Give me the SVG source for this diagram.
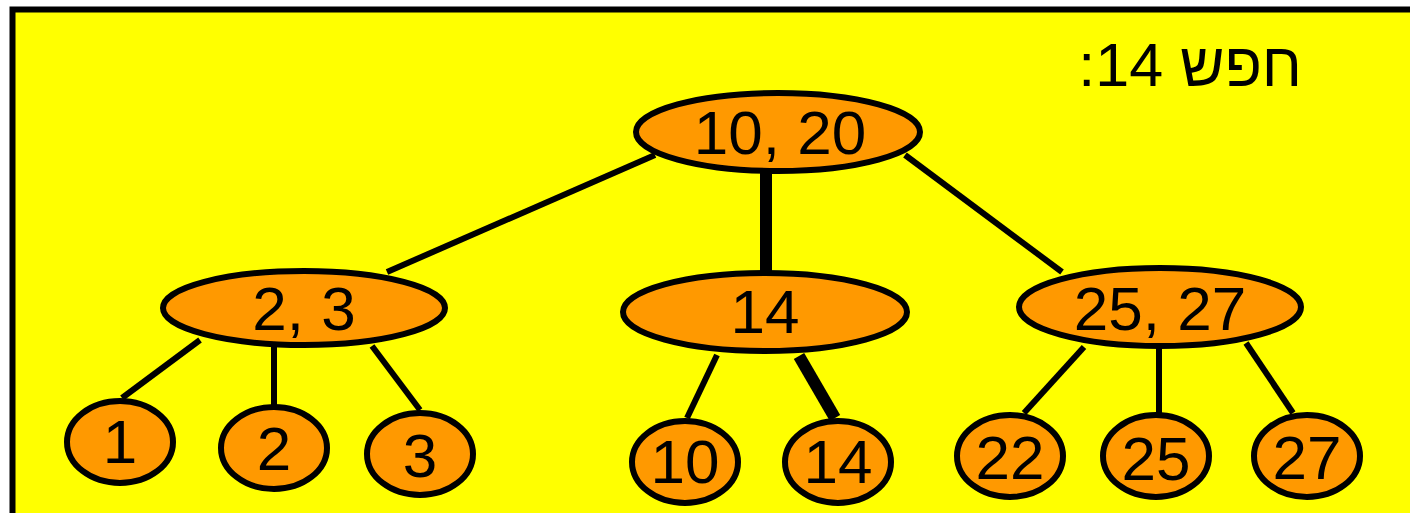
<svg xmlns="http://www.w3.org/2000/svg" width="1410" height="513" viewBox="0 0 1410 513">
<style>
.node ellipse{fill:#FF9900;stroke:#000;stroke-width:6}
.node text{font-family:"Comic Sans MS","Liberation Sans",sans-serif;font-size:62px;fill:#000;text-anchor:middle}
.edge{stroke:#000;stroke-width:6;fill:none}
.hot{stroke-width:12}
</style>
<rect x="0" y="0" width="1410" height="513" fill="#fff"/>
<rect x="12.5" y="9.5" width="1420" height="520" fill="#FFFF00" stroke="#000" stroke-width="6"/>
<text x="1302" y="86" direction="rtl" text-anchor="start" font-family="Liberation Sans, DejaVu Sans, sans-serif" font-size="61" fill="#000">חפש 14:</text>
<g id="connectors">
<line class="edge" x1="655" y1="155" x2="387" y2="272"/>
<line class="edge hot" x1="766" y1="172" x2="766" y2="273"/>
<line class="edge" x1="905" y1="155" x2="1062" y2="272"/>
<line class="edge" x1="200" y1="340" x2="122" y2="398"/>
<line class="edge" x1="274" y1="345" x2="274" y2="406"/>
<line class="edge" x1="372" y1="346" x2="420" y2="410"/>
<line class="edge" x1="717" y1="355" x2="687" y2="418"/>
<line class="edge hot" x1="799" y1="356" x2="835" y2="418"/>
<line class="edge" x1="1084" y1="347" x2="1024" y2="413"/>
<line class="edge" x1="1159" y1="347" x2="1159" y2="413"/>
<line class="edge" x1="1246" y1="343" x2="1293" y2="413"/>
</g>
<g id="n-root" class="node"><ellipse cx="778" cy="132" rx="142" ry="39"/><text x="780" y="154">10, 20</text></g>
<g id="n-23" class="node"><ellipse cx="304" cy="308" rx="141" ry="37"/><text x="304" y="330">2, 3</text></g>
<g id="n-14" class="node"><ellipse cx="765" cy="312" rx="142" ry="39"/><text x="765" y="333">14</text></g>
<g id="n-2527" class="node"><ellipse cx="1160" cy="307" rx="141" ry="39"/><text x="1160" y="330">25, 27</text></g>
<g id="n-1" class="node"><ellipse cx="120" cy="442" rx="53" ry="41"/><text x="120" y="463">1</text></g>
<g id="n-2" class="node"><ellipse cx="274" cy="448" rx="53" ry="41"/><text x="274" y="470">2</text></g>
<g id="n-3" class="node"><ellipse cx="420" cy="454" rx="53" ry="41"/><text x="420" y="477">3</text></g>
<g id="n-10" class="node"><ellipse cx="685" cy="462" rx="53" ry="41"/><text x="685" y="483">10</text></g>
<g id="n-14b" class="node"><ellipse cx="838" cy="462" rx="53" ry="41"/><text x="838" y="483">14</text></g>
<g id="n-22" class="node"><ellipse cx="1010" cy="456" rx="53" ry="41"/><text x="1010" y="479">22</text></g>
<g id="n-25" class="node"><ellipse cx="1156" cy="456" rx="53" ry="41"/><text x="1156" y="480">25</text></g>
<g id="n-27" class="node"><ellipse cx="1307" cy="456" rx="53" ry="41"/><text x="1307" y="479">27</text></g>
</svg>
